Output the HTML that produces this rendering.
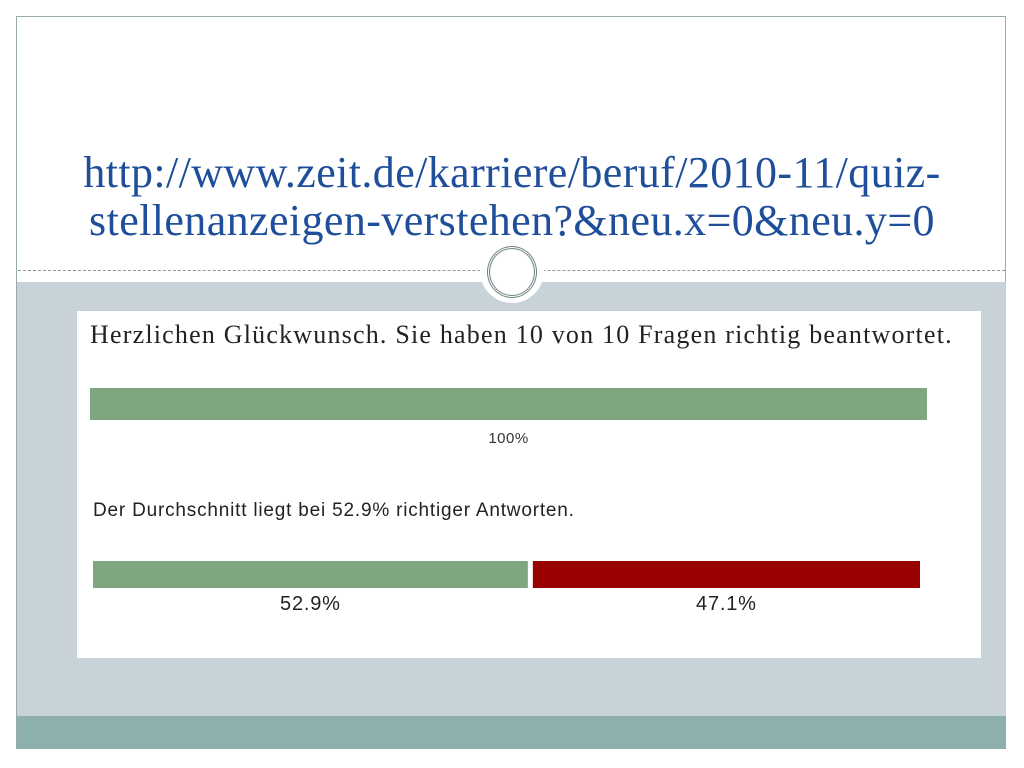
<!DOCTYPE html>
<html><head><meta charset="utf-8"><style>
body{margin:0;width:1024px;height:768px;background:#fff;position:relative;overflow:hidden;font-family:"Liberation Sans",sans-serif}
.abs{position:absolute}
</style></head><body>
<div class="abs" style="left:16px;top:16px;width:990px;height:733px;border:1px solid #9aa;box-sizing:border-box;background:#fff"></div>
<div class="abs" style="left:17px;top:282px;width:989px;height:434px;background:#c8d3d9"></div>
<div class="abs" style="left:17px;top:716px;width:989px;height:33px;background:#8dafae"></div>
<div class="abs" style="left:18px;top:270px;width:987px;border-top:1px dashed #8a9a9a"></div>
<div class="abs" style="left:480px;top:239px;width:64px;height:64px;border-radius:50%;background:#fff"></div>
<div class="abs" style="left:487px;top:246px;width:44px;height:46px;border-radius:50%;border:3px double #6f8585"></div>
<div class="abs" style="left:20px;top:149px;width:984px;text-align:center;font-family:'Liberation Serif',serif;font-size:44px;line-height:48px;letter-spacing:0.4px;color:#1f4f9a">http://www.zeit.de/karriere/beruf/2010-11/quiz-<br>stellenanzeigen-verstehen?&amp;neu.x=0&amp;neu.y=0</div>
<div class="abs" style="left:77px;top:311px;width:904px;height:347px;background:#fff"></div>
<div class="abs" style="left:90px;top:320px;font-family:'Liberation Serif',serif;font-size:26px;color:#222;letter-spacing:1.2px;white-space:nowrap">Herzlichen Glückwunsch. Sie haben 10 von 10 Fragen richtig beantwortet.</div>
<div class="abs" style="left:93px;top:500px;font-size:19px;letter-spacing:0.8px;color:#222;white-space:nowrap">Der Durchschnitt liegt bei 52.9% richtiger Antworten.</div>
<svg class="abs" style="left:0;top:0" width="1024" height="768" id="chart"></svg>
<script>
const userLabels=["100%"];
const userValues=[100];
const avgLabels=["52.9%","47.1%"];
const avgValues=[52.9,47.1];
const avgColors=["#7fa77f","#990000"];
const svg=document.getElementById('chart');
const NS='http://www.w3.org/2000/svg';
function mk(t,a){const e=document.createElementNS(NS,t);for(const k in a)e.setAttribute(k,a[k]);svg.appendChild(e);return e;}
const x1=90,w1=837;
function sx1(v){return w1*v/100;}
userValues.forEach((v,i)=>{
 const r=mk('rect',{x:x1,y:388,width:sx1(v),height:32,fill:'#7fa77f'});
 
 
 const t=mk('text',{x:x1+sx1(v)/2,y:443,'text-anchor':'middle','font-size':15,'letter-spacing':0.5,fill:'#333','font-family':'Liberation Sans, sans-serif'});
 t.textContent=userLabels[i];
 
 
});
const x2=93,gap=5,w2=827-gap;
function sx2(v){return w2*v/100;}
let cx=x2;
avgValues.forEach((v,i)=>{
 const w=sx2(v);
 const r=mk('rect',{x:cx,y:561,width:w,height:27,fill:avgColors[i]});
 
 
 const t=mk('text',{x:cx+w/2,y:610,'text-anchor':'middle','font-size':20,'letter-spacing':0.8,fill:'#222','font-family':'Liberation Sans, sans-serif'});
 t.textContent=avgLabels[i];
 
 
 cx+=w+gap;
});
</script>
</body></html>
